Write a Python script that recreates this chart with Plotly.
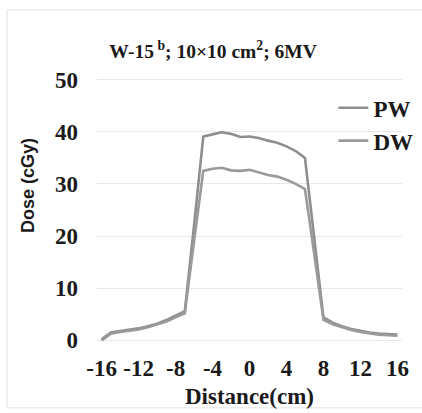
import plotly.graph_objects as go

distance = list(range(-16, 17))
pw = [0.2, 1.5, 1.8, 2.0, 2.3, 2.7, 3.2, 3.9, 4.7, 5.6, 22.0, 39.1, 39.5, 39.9, 39.6, 39.0,
      39.1, 38.8, 38.3, 37.9, 37.2, 36.3, 35.0, 19.8, 4.4, 3.4, 2.7, 2.2, 1.8, 1.5, 1.3, 1.2, 1.1]
dw = [0.0, 1.3, 1.6, 1.8, 2.1, 2.5, 3.0, 3.6, 4.4, 5.2, 19.0, 32.5, 32.9, 33.1, 32.6, 32.5,
      32.7, 32.2, 31.7, 31.4, 30.8, 30.0, 29.0, 16.6, 4.0, 3.1, 2.5, 2.0, 1.6, 1.3, 1.1, 1.0, 0.9]
x_ticks = [-16, -12, -8, -4, 0, 4, 8, 12, 16]
y_ticks = [0, 10, 20, 30, 40, 50]

serif = "Liberation Serif"
ink = "#1a1a1a"

fig = go.Figure()
fig.add_trace(go.Scatter(x=distance, y=pw, mode="lines", name="PW",
                         line=dict(color="#8e8e8e", width=2.6)))
fig.add_trace(go.Scatter(x=distance, y=dw, mode="lines", name="DW",
                         line=dict(color="#9a9a9a", width=2.6)))

fig.update_layout(
    width=422, height=413,
    margin=dict(l=97, r=20, t=77, b=70, autoexpand=False),
    paper_bgcolor="white", plot_bgcolor="white",
    title=dict(text="W-15<sup> b</sup>; 10×10 cm<sup>2</sup>; 6MV",
               x=213 / 422, xanchor="center", y=1 - 51 / 413, yanchor="middle",
               xref="container",
               font=dict(family=serif, size=19.5, color=ink, weight="bold")),
    legend=dict(x=0.775, y=0.965, xanchor="left", yanchor="top",
                bgcolor="rgba(255,255,255,0)",
                font=dict(family=serif, size=23, color=ink, weight="bold"),
                tracegroupgap=0, itemwidth=30),
    showlegend=True,
)
fig.update_xaxes(range=[-16.5, 16.5], tickvals=x_ticks, ticktext=[str(v) for v in x_ticks],
                 showgrid=False, zeroline=False, showline=False, ticks="",
                 ticklabelstandoff=9, automargin=False,
                 tickfont=dict(family=serif, size=23, color=ink, weight="bold"),
                 title=dict(text="Distance(cm)", standoff=7,
                            font=dict(family=serif, size=23, color=ink, weight="bold")))
fig.update_yaxes(range=[-0.5, 50.5], tickvals=y_ticks, ticktext=[str(v) for v in y_ticks],
                 showgrid=True, gridcolor="#e8e8e8", gridwidth=1, zeroline=False,
                 showline=False, ticks="", ticklabelstandoff=18, automargin=False,
                 tickfont=dict(family=serif, size=23, color=ink, weight="bold"))

fig.add_annotation(text="Dose (cGy)", textangle=-90, showarrow=False,
                   xref="paper", yref="paper", x=(28 - 97) / 305, y=(343 - 186) / 266,
                   xanchor="center", yanchor="middle",
                   font=dict(family="Liberation Sans", size=18, color=ink, weight="bold"))

fig.add_shape(type="rect", xref="paper", yref="paper",
              x0=-0.295, x1=1.075, y0=-0.244, y1=1.252,
              line=dict(color="#e2e2e2", width=1), fillcolor="rgba(0,0,0,0)", layer="below")

fig.write_html("out.html")
